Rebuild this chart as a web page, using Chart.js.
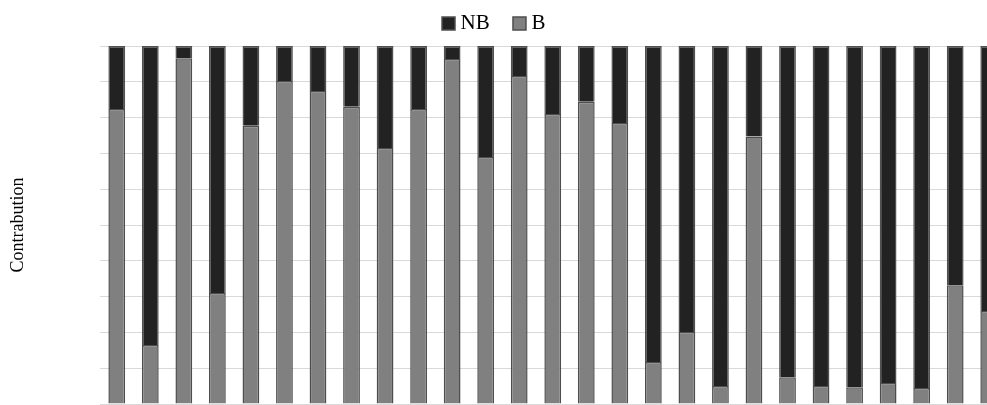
<!DOCTYPE html>
<html>
<head>
<meta charset="utf-8">
<script src="https://cdn.jsdelivr.net/npm/chart.js@4/dist/chart.umd.min.js"></script>
<style>
  html, body { margin: 0; padding: 0; background: #fff; overflow: hidden; }
  #wrap { position: absolute; left: -22px; top: 0; width: 1032px; height: 406px; }
</style>
</head>
<body>
<div id="wrap"><canvas id="chart"></canvas></div>
<script>
"use strict";

// ── Data ──────────────────────────────────────────────────
const categories = Array.from({ length: 27 }, (_, i) => String(i + 1));
const bShare = [
  82.4, 16.5, 96.6, 31.0, 77.7, 90.2, 87.4, 83.0, 71.5, 82.4,
  96.4, 69.0, 91.6, 81.0, 84.4, 78.5, 11.7, 20.1, 5.0, 74.7,
  7.5, 5.0, 4.7, 5.9, 4.5, 33.2, 26.0,
];
const nbShare = bShare.map((v) => 100 - v);
const yTicks = [0, 10, 20, 30, 40, 50, 60, 70, 80, 90, 100];

const serif = "'Liberation Serif', 'Times New Roman', serif";

new Chart(document.getElementById("chart"), {
  type: "bar",
  data: {
    labels: categories,
    datasets: [
      {
        label: "B",
        data: bShare,
        backgroundColor: "#808080",
        borderColor: "#4d4d4d",
        borderWidth: 1.5,
        barPercentage: 0.5,
        categoryPercentage: 1,
      },
      {
        label: "NB",
        data: nbShare,
        backgroundColor: "#222222",
        borderColor: "#505050",
        borderWidth: 1.5,
        barPercentage: 0.5,
        categoryPercentage: 1,
      },
    ],
  },
  options: {
    responsive: true,
    maintainAspectRatio: false,
    animation: false,
    layout: { padding: { left: 9, right: 4.5, top: -15.3, bottom: 2 } },
    plugins: {
      legend: {
        position: "top",
        reverse: true,
        labels: {
          // narrow box width keeps the swatch close to its text
          usePointStyle: true,
          pointStyle: "rect",
          boxWidth: 3,
          boxHeight: 13,
          padding: 28.3,
          color: "#000",
          font: { family: serif, size: 21 },
        },
      },
      tooltip: { enabled: false },
    },
    scales: {
      x: {
        stacked: true,
        position: "top",
        ticks: { display: false },
        grid: { display: false, drawTicks: false },
        border: { display: false },
        afterFit: (scale) => { scale.height = 2; },
      },
      y: {
        stacked: true,
        min: 0,
        max: 100,
        afterBuildTicks: (scale) => {
          scale.ticks = yTicks.map((v) => ({ value: v }));
        },
        afterFit: (scale) => { scale.width = 113; },
        ticks: { display: false },
        grid: { color: "#d9d9d9", lineWidth: 1, drawTicks: false },
        border: { display: false },
        title: {
          display: true,
          text: "Contrabution",
          color: "#000",
          font: { family: serif, size: 18 },
          padding: { top: 20.2, bottom: 4 },
        },
      },
    },
  },
});
</script>
</body>
</html>
